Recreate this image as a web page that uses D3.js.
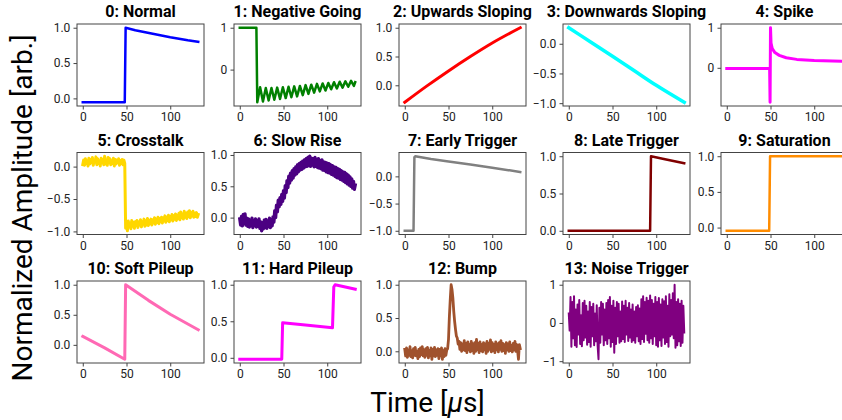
<!DOCTYPE html>
<html><head><meta charset="utf-8">
<script src="https://cdn.jsdelivr.net/npm/d3@7"></script>
<style>
body{margin:0;background:#fff}
svg{display:block}
text{font-family:Roboto,"DejaVu Sans",sans-serif}
</style>
</head><body>
<svg id="chart" width="842" height="420"></svg>
<script>
// ---------- categories / labels ----------
const titles = ["0: Normal","1: Negative Going","2: Upwards Sloping","3: Downwards Sloping","4: Spike",
  "5: Crosstalk","6: Slow Rise","7: Early Trigger","8: Late Trigger","9: Saturation",
  "10: Soft Pileup","11: Hard Pileup","12: Bump","13: Noise Trigger"];
const colors = ["#0000ff","#008000","#ff0000","#00ffff","#ff00ff",
  "#ffd700","#4b0082","#808080","#800000","#ff8c00",
  "#ff69b4","#ff00ff","#a0522d","#800080"];
const xTickValues = [0,50,100];
const yTickValues = [[0,0.5,1],[0,1],[0,0.5,1],[-1,-0.5,0],[0,1],
  [-1,-0.5,0],[0,0.5,1],[-1,-0.5,0],[0,0.5,1],[0,0.5,1],
  [0,0.5,1],[0,0.5,1],[0,0.5,1],[-1,0,1]];
const yTickFormats = [".1f","d",".1f",".1f","d",".1f",".1f",".1f",".1f",".1f",".1f",".1f",".1f","d"];

// ---------- series (time in µs, amplitude normalized) ----------
const s0t = [0,48,49,60,70,80,90,100,110,120,132];
const s0v = [-0.055,-0.055,1.0,0.965,0.94,0.915,0.89,0.865,0.845,0.822,0.80];

const s1t = [0,19,20,23.25,26.5,29.75,33,36.25,39.5,42.75,46,49.25,52.5,55.75,59,62.25,65.5,68.75,72,75.25,78.5,81.75,85,88.25,91.5,94.75,98,101.25,104.5,107.75,111,114.25,117.5,120.75,124,127.25,130.5,132];
const s1v = [1.0,1.0,-0.78,-0.42,-0.76,-0.44,-0.74,-0.44,-0.72,-0.43,-0.70,-0.42,-0.68,-0.41,-0.66,-0.40,-0.64,-0.39,-0.61,-0.37,-0.58,-0.36,-0.55,-0.34,-0.52,-0.33,-0.50,-0.32,-0.47,-0.30,-0.45,-0.29,-0.43,-0.28,-0.41,-0.27,-0.39,-0.30];

const s2t = [0,25,50,75,100,132];
const s2v = [-0.295,-0.015,0.25,0.50,0.735,1.0];

const s3t = [0,25,50,75,100,132];
const s3v = [0.27,0.03,-0.21,-0.455,-0.70,-0.985];

const s4t = [0,49,49.5,50,50.6,52,55,60,68,80,100,132];
const s4v = [-0.02,-0.02,-0.86,1.0,0.62,0.48,0.38,0.31,0.25,0.21,0.18,0.165];

const s5v = [0.03,0.10,0.02,0.12,0.05,0.09,0.01,0.13,0.04,0.11,
  0.06,0.14,0.02,0.10,0.07,0.15,0.03,0.12,0.05,0.09,
  0.01,0.13,0.06,0.11,0.03,0.16,0.04,0.10,0.02,0.14,
  0.06,0.12,0.03,0.09,0.05,0.13,0.01,0.11,0.04,0.10,
  0.06,0.12,0.02,0.09,0.05,0.11,0.03,0.10,0.05,
  -0.95,-0.86,-0.99,-0.84,-0.93,-0.87,-0.96,-0.83,-0.92,-0.86,
  -0.95,-0.85,-0.91,-0.83,-0.94,-0.86,-0.90,-0.82,-0.93,-0.85,
  -0.89,-0.81,-0.92,-0.84,-0.90,-0.80,-0.91,-0.83,-0.88,-0.81,
  -0.90,-0.82,-0.87,-0.79,-0.89,-0.81,-0.86,-0.78,-0.88,-0.80,
  -0.85,-0.78,-0.87,-0.79,-0.84,-0.76,-0.86,-0.78,-0.83,-0.75,
  -0.85,-0.77,-0.82,-0.74,-0.84,-0.76,-0.81,-0.73,-0.83,-0.75,
  -0.80,-0.72,-0.82,-0.70,-0.79,-0.73,-0.81,-0.69,-0.78,-0.72,
  -0.80,-0.70,-0.77,-0.68,-0.79,-0.71,-0.76,-0.69,-0.78,-0.72,
  -0.77,-0.71,-0.78,-0.74];

const s6v = [-0.02,-0.12,0.02,-0.13,0.05,-0.09,0.06,-0.12,-0.01,-0.14,
  -0.02,-0.15,-0.04,-0.13,-0.01,-0.16,-0.05,-0.12,-0.02,-0.15,
  -0.05,-0.14,-0.02,-0.17,-0.07,-0.21,-0.08,-0.18,-0.04,-0.16,
  -0.03,-0.17,-0.06,-0.14,-0.01,-0.16,-0.05,-0.13,0.01,-0.07,
  0.11,0.00,0.20,0.09,0.28,0.17,0.32,0.21,0.37,0.26,
  0.43,0.31,0.51,0.40,0.59,0.48,0.66,0.55,0.71,0.60,
  0.75,0.63,0.78,0.68,0.81,0.70,0.84,0.73,0.86,0.76,
  0.88,0.77,0.90,0.79,0.92,0.81,0.94,0.82,0.96,0.83,
  0.98,0.82,0.95,0.84,0.94,0.81,0.96,0.82,0.93,0.80,
  0.94,0.79,0.91,0.78,0.92,0.76,0.89,0.75,0.88,0.73,
  0.87,0.72,0.86,0.71,0.84,0.69,0.83,0.68,0.81,0.66,
  0.80,0.64,0.78,0.63,0.77,0.61,0.75,0.60,0.73,0.58,
  0.72,0.56,0.70,0.54,0.68,0.52,0.65,0.50,0.62,0.47,
  0.58,0.45,0.52];

const s7t = [0,10,11,12,30,50,75,100,132];
const s7v = [-1.0,-1.0,0.35,0.37,0.32,0.275,0.22,0.16,0.08];

const s8t = [0,93,94,110,132];
const s8v = [0.0,0.0,1.0,0.96,0.905];

const s9t = [0,48.5,49.5,132];
const s9v = [-0.045,-0.045,1.0,1.0];

const s10t = [0,25,48,49,75,100,132];
const s10v = [0.14,-0.05,-0.24,1.0,0.74,0.51,0.25];

const s11t = [0,48,49,75,106,107.5,109,132];
const s11v = [-0.02,-0.02,0.48,0.45,0.41,0.97,1.0,0.94];

const s12v = [0.03,-0.07,0.05,-0.09,0.02,-0.06,0.07,-0.08,0.01,-0.10,
  0.04,-0.06,0.06,-0.07,0.00,-0.11,0.03,-0.08,0.05,-0.05,
  0.07,-0.07,0.02,-0.09,0.04,-0.06,0.06,-0.10,0.01,-0.07,
  0.05,-0.12,0.03,-0.07,0.06,-0.08,0.02,-0.06,0.04,-0.11,
  0.03,-0.07,0.05,-0.12,0.01,-0.08,0.04,-0.06,0.02,0.04,
  0.18,0.52,0.78,1.00,0.93,0.80,0.60,0.45,0.33,0.23,
  0.20,0.11,0.15,0.03,0.13,0.00,0.11,0.02,0.16,0.01,
  0.12,-0.02,0.14,0.02,0.10,-0.01,0.15,0.01,0.11,-0.03,
  0.13,0.00,0.18,0.02,0.12,-0.02,0.14,0.01,0.10,-0.01,
  0.13,0.02,0.11,-0.03,0.15,0.00,0.12,0.03,0.17,-0.01,
  0.13,0.01,0.10,-0.02,0.14,0.02,0.11,-0.01,0.13,0.03,
  0.16,0.00,0.12,0.01,0.10,-0.03,0.13,0.02,0.11,0.00,
  0.14,0.01,0.09,-0.01,0.12,0.02,0.15,0.00,0.10,0.01,
  -0.12,0.10,0.04];

const s13v = [0.25,-0.20,0.68,-0.62,0.55,-0.40,0.70,-0.58,0.35,-0.63,
  0.48,-0.30,0.60,-0.55,0.20,-0.61,0.52,-0.45,0.58,-0.38,
  0.45,-0.57,0.30,-0.50,0.55,-0.62,0.42,-0.35,0.50,-0.58,
  0.25,-0.48,0.46,-0.60,-0.95,0.40,-0.52,0.55,-0.30,0.50,
  -0.58,0.35,-0.45,0.52,-0.55,0.60,-0.40,0.68,-0.62,0.45,
  -0.50,0.58,-0.78,0.40,-0.55,0.55,-0.35,0.50,-0.52,0.30,
  -0.48,0.56,-0.42,0.45,-0.50,0.58,-0.30,0.40,-0.47,0.52,
  -0.38,0.35,-0.50,0.48,-0.45,0.30,-0.52,0.42,-0.35,0.46,
  -0.48,0.38,-0.55,0.62,-0.42,0.70,-0.50,0.55,-0.28,0.66,
  -0.45,0.58,-0.52,0.72,-0.40,0.60,-0.55,0.50,-0.35,0.68,
  -0.58,0.55,-0.62,0.65,-0.45,0.48,-0.60,0.62,-0.38,0.57,
  -0.55,0.70,-0.50,0.45,-0.62,0.75,-0.35,0.60,-0.30,0.78,
  -0.40,1.00,-0.65,0.55,-0.58,0.62,-0.48,0.50,-0.60,0.58,
  -0.52,0.45,-0.25];

// sampled series use a uniform 1 µs sample step
const SAMPLE_DT = 1;
const sampled = v => v.map((_, i) => i * SAMPLE_DT);

const seriesT = [s0t,s1t,s2t,s3t,s4t,sampled(s5v),sampled(s6v),s7t,s8t,s9t,s10t,s11t,sampled(s12v),sampled(s13v)];
const seriesV = [s0v,s1v,s2v,s3v,s4v,s5v,s6v,s7v,s8v,s9v,s10v,s11v,s12v,s13v];
const lineWidths = [2.5,2.5,3,3.5,3,3,3.3,2.5,2.5,2.5,3,3,2.8,2];
const smooth = [false,false,true,true,false,false,false,false,false,false,false,false,false,false];

// ---------- layout ----------
const colLeft = [77,234,399,563,721];
const rowTop = [24,152.5,281];
const W = 127, H = 82;

const svg = d3.select("#chart");
svg.append("rect").attr("width",842).attr("height",420).attr("fill","#fff");

titles.forEach((title, i) => {
  const r = Math.floor(i/5), c = i % 5;
  const g = svg.append("g").attr("transform", `translate(${colLeft[c]},${rowTop[r]})`);
  const ts = seriesT[i], vs = seriesV[i];
  const [t0,t1] = d3.extent(ts), [v0,v1] = d3.extent(vs);
  const tp = (t1-t0)*0.05, vp = (v1-v0)*0.05;
  const x = d3.scaleLinear().domain([t0-tp, t1+tp]).range([0, W]);
  const y = d3.scaleLinear().domain([v0-vp, v1+vp]).range([H, 0]);

  const clipId = "clip"+i;
  g.append("clipPath").attr("id", clipId).append("rect").attr("width", W).attr("height", H);

  const line = d3.line().x(d => x(d[0])).y(d => y(d[1]));
  if (smooth[i]) line.curve(d3.curveMonotoneX);

  g.append("path")
    .datum(d3.zip(ts, vs))
    .attr("clip-path", `url(#${clipId})`)
    .attr("d", line)
    .attr("fill","none").attr("stroke", colors[i])
    .attr("stroke-width", lineWidths[i])
    .attr("stroke-linejoin","round").attr("stroke-linecap","square");

  const xa = g.append("g").attr("transform", `translate(0,${H})`)
    .call(d3.axisBottom(x).tickValues(xTickValues).tickSize(3.5).tickPadding(3.2).tickFormat(d3.format("d")));
  const ya = g.append("g")
    .call(d3.axisLeft(y).tickValues(yTickValues[i]).tickSize(3.5).tickPadding(3.2).tickFormat(d3.format(yTickFormats[i])));
  [xa, ya].forEach(a => {
    a.select(".domain").remove();
    a.selectAll(".tick line").attr("stroke","#444").attr("stroke-width",1);
    a.selectAll(".tick text").attr("fill","#222").style("font-size","12px").style("font-family","Roboto, sans-serif");
  });

  g.append("rect").attr("width", W).attr("height", H)
    .attr("fill","none").attr("stroke","#444").attr("stroke-width",1);

  g.append("text").attr("x", W/2).attr("y", -7)
    .attr("text-anchor","middle").attr("fill","#000")
    .style("font-size","16px").style("font-weight","bold")
    .text(title);
});

// figure labels
svg.append("text")
  .attr("transform","translate(32,208) rotate(-90)")
  .attr("text-anchor","middle").attr("fill","#000")
  .style("font-size","28px")
  .text("Normalized Amplitude [arb.]");

const xl = svg.append("text").attr("x",427.5).attr("y",412)
  .attr("text-anchor","middle").attr("fill","#000").style("font-size","28px");
xl.append("tspan").text("Time [");
xl.append("tspan").style("font-style","italic").text("μ");
xl.append("tspan").text("s]");
</script>
</body></html>
